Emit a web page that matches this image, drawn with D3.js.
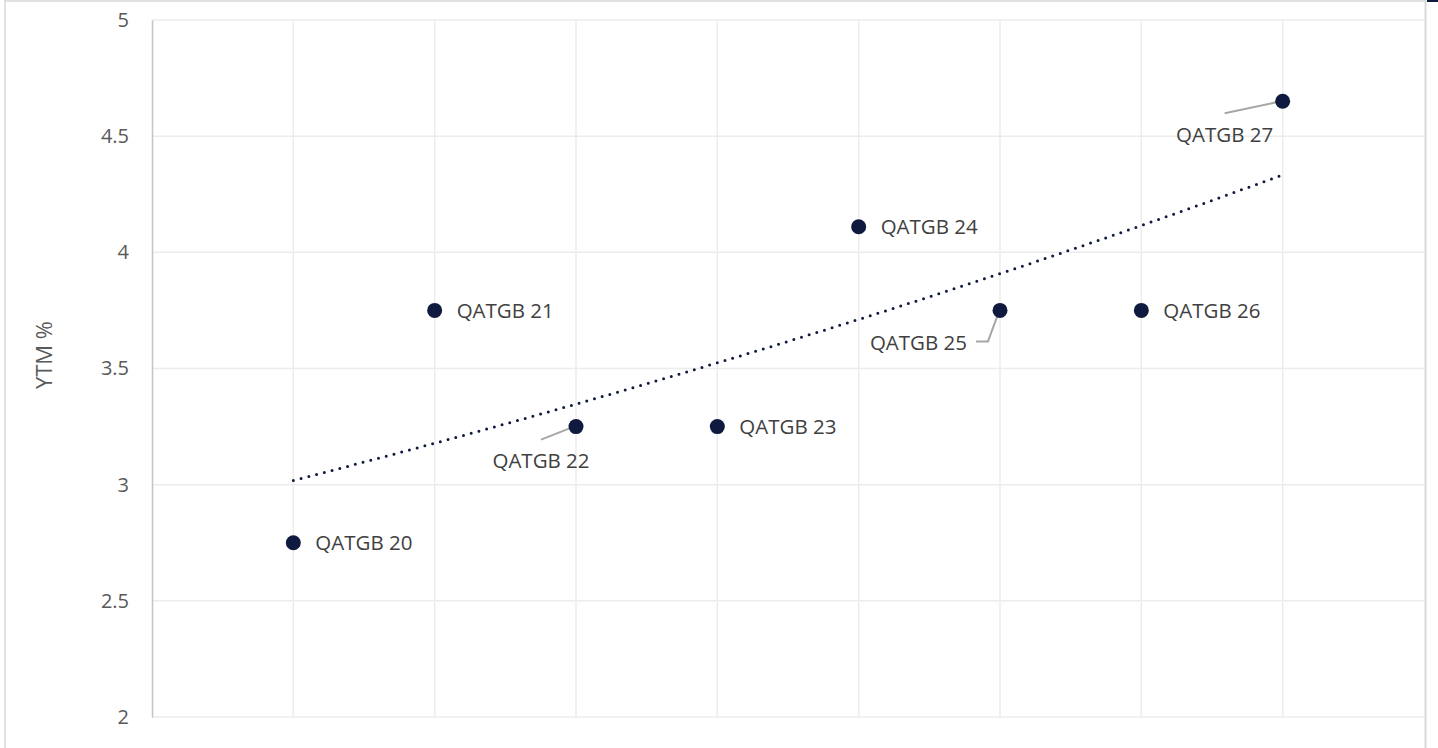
<!DOCTYPE html>
<html>
<head>
<meta charset="utf-8">
<script src="https://cdn.jsdelivr.net/npm/d3@7/dist/d3.min.js"></script>
<style>
  html, body { margin: 0; padding: 0; background: #ffffff; }
  svg { display: block; font-family: "Open Sans", "Noto Sans", sans-serif; }
</style>
</head>
<body>
<svg id="chart" width="1438" height="748"></svg>
<script>
// Bond series: tenor index on x, yield to maturity (%) on y
const bonds = ["QATGB 20", "QATGB 21", "QATGB 22", "QATGB 23", "QATGB 24", "QATGB 25", "QATGB 26", "QATGB 27"];
const tenor = [1, 2, 3, 4, 5, 6, 7, 8];
const ytm = [2.75, 3.75, 3.25, 3.25, 4.11, 3.75, 3.75, 4.65];
const yTicks = [2, 2.5, 3, 3.5, 4, 4.5, 5];
const xGrid = [1, 2, 3, 4, 5, 6, 7, 8];
// Label placement per bond: "right" sits beside the dot, others use a leader line
const labelPlacement = ["right", "right", "below-left", "right", "right", "left-elbow", "right", "below-left"];

const svg = d3.select("#chart");
const W = 1438, H = 748;
const plot = { left: 152, right: 1424, top: 20, bottom: 717 };

const x = d3.scaleLinear().domain([0, 9]).range([plot.left, plot.right]);
const y = d3.scaleLinear().domain([2, 5]).range([plot.bottom, plot.top]);

// Outer frame of the chart object
svg.append("line").attr("x1", 5).attr("x2", 5).attr("y1", 0).attr("y2", H)
  .attr("stroke", "#d9d9d9").attr("stroke-width", 1.5);
svg.append("line").attr("x1", 5).attr("x2", 1426).attr("y1", 1).attr("y2", 1)
  .attr("stroke", "#d9d9d9").attr("stroke-width", 1.5);
svg.append("line").attr("x1", 1425.5).attr("x2", 1425.5).attr("y1", 0).attr("y2", H)
  .attr("stroke", "#d9d9d9").attr("stroke-width", 2);
svg.append("rect").attr("x", 1427).attr("y", 0).attr("width", 11).attr("height", 2)
  .attr("fill", "#0f1a3e");

// Gridlines
svg.append("g").selectAll("line").data(yTicks).join("line")
  .attr("x1", plot.left).attr("x2", plot.right)
  .attr("y1", d => y(d)).attr("y2", d => y(d))
  .attr("stroke", "#ececec").attr("stroke-width", 1.5);
svg.append("g").selectAll("line").data(xGrid).join("line")
  .attr("x1", d => x(d)).attr("x2", d => x(d))
  .attr("y1", plot.top).attr("y2", plot.bottom)
  .attr("stroke", "#ececec").attr("stroke-width", 1.5);

// Y axis (line + tick labels)
const yAxis = d3.axisLeft(y).tickValues(yTicks).tickSize(0).tickPadding(23)
  .tickFormat(d3.format("~g"));
const yg = svg.append("g").attr("transform", `translate(${plot.left},0)`).call(yAxis);
yg.select(".domain").attr("stroke", "#c4c4c4").attr("stroke-width", 1.5);
yg.selectAll("text").attr("fill", "#595959").attr("font-size", 20)
  .attr("font-family", "Open Sans, Noto Sans, sans-serif");

// Axis title
svg.append("text")
  .attr("transform", "translate(44,355) rotate(-90)")
  .attr("text-anchor", "middle")
  .attr("dy", "0.35em")
  .attr("fill", "#595959").attr("font-size", 22)
  .text("YTM %");

// Exponential trendline fitted to the series: y = a * e^(b x)
const lnY = ytm.map(Math.log);
const mx = d3.mean(tenor), my = d3.mean(lnY);
const b = d3.sum(tenor, (t, i) => (t - mx) * (lnY[i] - my)) / d3.sum(tenor, t => (t - mx) ** 2);
const a = Math.exp(my - b * mx);
const trendPts = d3.range(0, 141).map(i => {
  const t = 1 + i * (7 / 140);
  return [t, a * Math.exp(b * t)];
});
svg.append("path")
  .datum(trendPts)
  .attr("d", d3.line().x(d => x(d[0])).y(d => y(d[1])))
  .attr("fill", "none")
  .attr("stroke", "#0f1a3e")
  .attr("stroke-width", 3)
  .attr("stroke-linecap", "round")
  .attr("stroke-dasharray", "0 8");

// Leader lines for labels placed away from their dot
const leaders = svg.append("g").attr("stroke", "#a6a6a6").attr("stroke-width", 2).attr("fill", "none");
const labels = svg.append("g").attr("font-size", 20.5).attr("fill", "#404040");

bonds.forEach((name, i) => {
  const px = x(tenor[i]), py = y(ytm[i]);
  const place = labelPlacement[i];
  if (place === "right") {
    labels.append("text").attr("x", px + 22).attr("y", py).attr("dy", "0.35em").text(name);
  } else if (place === "below-left") {
    const off = i === 7 ? 58 : 35;
    labels.append("text").attr("x", px - off).attr("y", py + 34).attr("dy", "0.35em")
      .attr("text-anchor", "middle").text(name);
    const ly = py + (i === 7 ? 12 : 13);
    leaders.append("path").attr("d", `M${px - off},${ly}L${px - 2},${py}`);
  } else {
    labels.append("text").attr("x", px - 33).attr("y", py + 32).attr("dy", "0.35em")
      .attr("text-anchor", "end").text(name);
    leaders.append("path").attr("d", `M${px - 24},${py + 31}H${px - 12}L${px - 1},${py + 1}`);
  }
});

// Markers
svg.append("g").selectAll("circle").data(tenor).join("circle")
  .attr("cx", d => x(d)).attr("cy", (d, i) => y(ytm[i]))
  .attr("r", 7.5).attr("fill", "#0f1a3e");
</script>
</body>
</html>
